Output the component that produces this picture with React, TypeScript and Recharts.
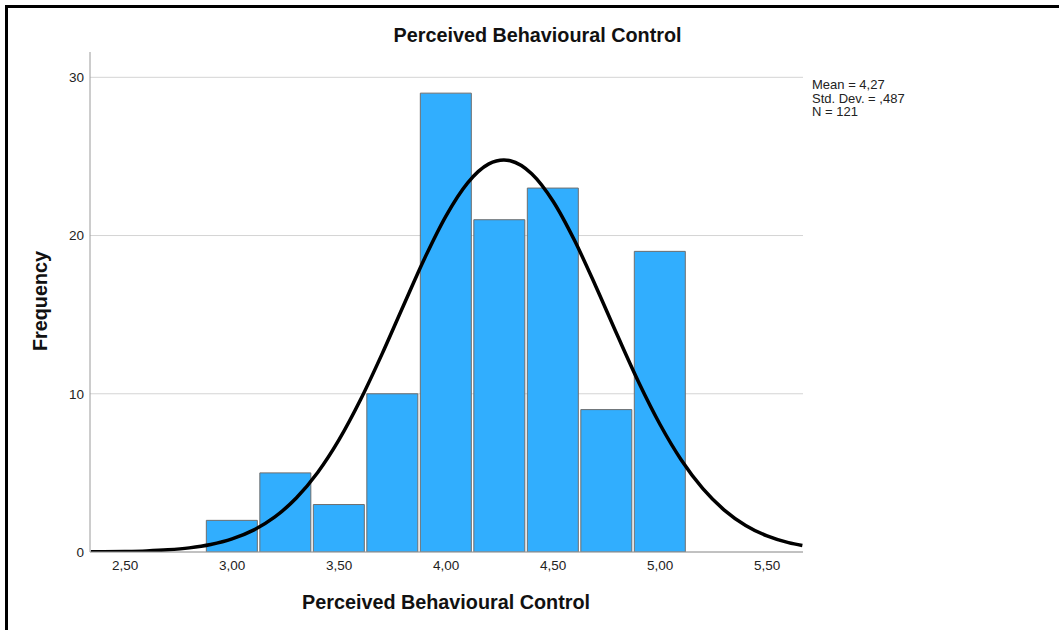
import {
  ComposedChart,
  Bar,
  Line,
  XAxis,
  YAxis,
  CartesianGrid,
} from 'recharts'

// histogram bins (bin centre, frequency)
const binCenters = [3.0, 3.25, 3.5, 3.75, 4.0, 4.25, 4.5, 4.75, 5.0]
const frequencies = [2, 5, 3, 10, 29, 21, 23, 9, 19]

// normal curve
const curveX = [
  2.34, 2.4, 2.5, 2.6, 2.7, 2.8, 2.9, 3.0, 3.1, 3.2, 3.3, 3.4, 3.5, 3.6,
  3.7, 3.8, 3.9, 4.0, 4.1, 4.2, 4.27, 4.3, 4.4, 4.5, 4.6, 4.7, 4.8, 4.9,
  5.0, 5.1, 5.2, 5.3, 5.4, 5.5, 5.6, 5.665,
]
const curveY = [
  0.01, 0.016, 0.034, 0.069, 0.137, 0.26, 0.474, 0.827, 1.383, 2.218,
  3.408, 5.025, 7.1, 9.62, 12.49, 15.55, 18.57, 21.25, 23.32, 24.53,
  24.78, 24.73, 23.91, 22.17, 19.7, 16.78, 13.71, 10.73, 8.06, 5.8, 4.0,
  2.65, 1.68, 1.02, 0.595, 0.41,
]

const xTicks = [2.5, 3.0, 3.5, 4.0, 4.5, 5.0, 5.5]
const yTicks = [0, 10, 20, 30]
const statLines = ['Mean = 4,27', 'Std. Dev. = ,487', 'N = 121']

const xDomain: [number, number] = [2.336, 5.668]
const yDomain: [number, number] = [0, 31.6]

const barData = binCenters.map((x, i) => ({ x, count: frequencies[i] }))
const curveData = curveX.map((x, i) => ({ x, y: curveY[i] }))

const fmt = (v: number) => v.toFixed(2).replace('.', ',')

const font = '"Liberation Sans", Arial, sans-serif'

const App = () => {
  return (
    <div
      style={{
        position: 'absolute',
        left: 0,
        top: 0,
        width: 1059,
        height: 630,
        background: '#fff',
        fontFamily: font,
        overflow: 'hidden',
      }}
    >
      {/* frame */}
      <div
        style={{
          position: 'absolute',
          left: 5,
          top: 5,
          width: 1100,
          height: 700,
          borderTop: '3px solid #000',
          borderLeft: '3px solid #000',
        }}
      />

      <div
        style={{
          position: 'absolute',
          left: 0,
          width: 1075,
          top: 24,
          textAlign: 'center',
          fontSize: 19.8,
          fontWeight: 'bold',
          color: '#111',
        }}
      >
        Perceived Behavioural Control
      </div>

      <ComposedChart
        width={1059}
        height={630}
        data={barData}
        margin={{ top: 52, right: 256, bottom: 48, left: 50 }}
      >
        <CartesianGrid
          vertical={false}
          stroke="#d4d4d4"
          horizontalValues={yTicks}
        />

        <XAxis
          dataKey="x"
          type="number"
          domain={xDomain}
          ticks={xTicks}
          allowDataOverflow
          tickFormatter={fmt}
          tickLine={false}
          tickSize={4}
          tickMargin={4}
          height={30}
          axisLine={{ stroke: '#9a9a9a' }}
          tick={{ fill: '#222', fontSize: 13.5 }}
        />

        <XAxis
          xAxisId="curve"
          dataKey="x"
          type="number"
          domain={xDomain}
          allowDataOverflow
          hide
        />

        <YAxis
          type="number"
          domain={yDomain}
          ticks={yTicks}
          allowDataOverflow
          width={40}
          tickLine={false}
          tickSize={4}
          tickMargin={2}
          axisLine={{ stroke: '#9a9a9a' }}
          tick={{ fill: '#222', fontSize: 13.5 }}
        />

        <Bar
          dataKey="count"
          barSize={51}
          fill="#31aefe"
          stroke="#6e6e6e"
          strokeWidth={1}
          isAnimationActive={false}
        />

        <Line
          xAxisId="curve"
          data={curveData}
          dataKey="y"
          type="monotone"
          stroke="#000"
          strokeWidth={3.5}
          dot={false}
          activeDot={false}
          isAnimationActive={false}
        />
      </ComposedChart>

      <div
        style={{
          position: 'absolute',
          left: 812,
          top: 78,
          fontSize: 13,
          lineHeight: '13.5px',
          color: '#222',
        }}
      >
        {statLines.map((s) => (
          <div key={s}>{s}</div>
        ))}
      </div>

      <div
        style={{
          position: 'absolute',
          left: 40,
          top: 301,
          transform: 'translate(-50%, -50%) rotate(-90deg)',
          fontSize: 19.8,
          fontWeight: 'bold',
          color: '#111',
          whiteSpace: 'nowrap',
        }}
      >
        Frequency
      </div>

      <div
        style={{
          position: 'absolute',
          left: 0,
          width: 892,
          top: 591,
          textAlign: 'center',
          fontSize: 19.8,
          fontWeight: 'bold',
          color: '#111',
        }}
      >
        Perceived Behavioural Control
      </div>
    </div>
  )
}

export default App
